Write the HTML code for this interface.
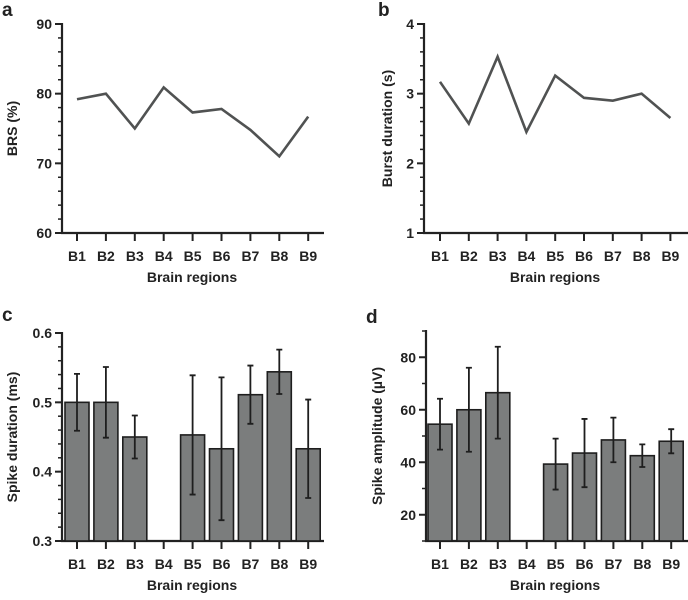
<!DOCTYPE html>
<html><head><meta charset="utf-8"><style>
body{margin:0;background:#fff;}
svg text{font-family:"Liberation Sans",Arial,sans-serif;font-weight:bold;fill:#222;}
</style></head><body>
<svg id="fig" width="688" height="595" viewBox="0 0 688 595"></svg>
<script>
const categories = ["B1","B2","B3","B4","B5","B6","B7","B8","B9"];
const brsValues = [79.2,80,75,80.9,77.3,77.8,74.8,71,76.7];
const burstValues = [3.17,2.57,3.53,2.45,3.26,2.94,2.9,3.0,2.65];
const spikeDurValues = [0.5,0.5,0.45,null,0.453,0.433,0.511,0.544,0.433];
const spikeDurErr = [0.041,0.051,0.031,0,0.086,0.103,0.042,0.032,0.071];
const spikeAmpValues = [54.5,60,66.5,null,39.3,43.5,48.5,42.5,48];
const spikeAmpErr = [9.7,16,17.5,0,9.7,13,8.5,4.3,4.6];
const brsTicks = [60,70,80,90];
const burstTicks = [1,2,3,4];
const durTicks = ["0.3","0.4","0.5","0.6"];
const ampTicks = [20,40,60,80];

const NS="http://www.w3.org/2000/svg";
const svg=document.getElementById('fig');
function mk(tag,attrs,parent){const e=document.createElementNS(NS,tag);for(const k in attrs)e.setAttribute(k,attrs[k]);(parent||svg).appendChild(e);return e;}

function panel(cfg){
  const g=mk('g',{});
  
  
  const y=v=>cfg.y0-(v-cfg.vmin)/(cfg.vmax-cfg.vmin)*(cfg.y0-cfg.y1);
  const x=i=>cfg.xb1+i*cfg.step;
  // letter
  const L=mk('text',{x:cfg.lx,y:cfg.ly,'font-size':19},g);L.textContent=cfg.letter;
  
  
  // minor ticks
  for(let v=cfg.vmin;v<=cfg.vmax+1e-9;v+=cfg.minor){
    mk('line',{x1:cfg.ax-4,x2:cfg.ax,y1:y(v),y2:y(v),stroke:'#222','stroke-width':1.5},g);
  }
  // major ticks
  cfg.ticks.forEach(t=>{
    const v=parseFloat(t);
    mk('line',{x1:cfg.ax-7,x2:cfg.ax,y1:y(v),y2:y(v),stroke:'#222','stroke-width':2},g);
    const tx=mk('text',{x:cfg.ax-10,y:y(v)+5,'font-size':14,'text-anchor':'end'},g);tx.textContent=t;
    
    
  });
  // axes
  const ya=mk('line',{x1:cfg.ax,x2:cfg.ax,y1:cfg.y1-1,y2:cfg.y0+1,stroke:'#222','stroke-width':2.2},g);
  
  
  const xa=mk('line',{x1:cfg.ax-1,x2:cfg.xend,y1:cfg.y0,y2:cfg.y0,stroke:'#222','stroke-width':2.2},g);
  
  
  // bars
  if(cfg.type==='bar'){
    cfg.vals.forEach((v,i)=>{
      if(v==null)return;
      const r=mk('rect',{x:x(i)-12,y:y(v),width:24,height:cfg.y0-y(v),fill:'#7b7d7d',stroke:'#1e1e1e','stroke-width':1.6},g);
      
      
      const e=cfg.err[i];
      const eb=mk('path',{d:`M${x(i)},${y(v-e)}V${y(v+e)}M${x(i)-3},${y(v+e)}H${x(i)+3}M${x(i)-3},${y(v-e)}H${x(i)+3}`,stroke:'#1e1e1e','stroke-width':1.8,fill:'none'},g);
      
      
    });
  } else {
    const p=mk('polyline',{points:cfg.vals.map((v,i)=>x(i)+','+y(v)).join(' '),fill:'none',stroke:'#505252','stroke-width':2.6,'stroke-linejoin':'miter'},g);
    
    
  }
  // x ticks/labels
  categories.forEach((c,i)=>{
    mk('line',{x1:x(i),x2:x(i),y1:cfg.y0,y2:cfg.y0+8,stroke:'#222','stroke-width':2},g);
    const t=mk('text',{x:x(i),y:cfg.y0+28,'font-size':14,'text-anchor':'middle'},g);t.textContent=c;
    
    
  });
  const xt=mk('text',{x:cfg.xtitle,y:cfg.y0+49,'font-size':14,'text-anchor':'middle'},g);xt.textContent='Brain regions';
  
  
  const yt=mk('text',{x:0,y:0,'font-size':14,'text-anchor':'middle',transform:`translate(${cfg.ytx},${(cfg.y0+cfg.y1)/2}) rotate(-90)`},g);yt.textContent=cfg.ytitle;
  
  
}

panel({name:'panel-a-brs',letter:'a',lx:2,ly:16,type:'line',vals:brsValues,vmin:60,vmax:90,minor:2,ticks:brsTicks.map(String),
  ax:62,y0:233,y1:24,xb1:77,step:28.9,xend:324,xtitle:192,ytitle:'BRS (%)',ytx:17});
panel({name:'panel-b-burst',letter:'b',lx:378,ly:16,type:'line',vals:burstValues,vmin:1,vmax:4,minor:0.2,ticks:burstTicks.map(String),
  ax:424,y0:233,y1:24,xb1:440,step:28.8,xend:688,xtitle:555,ytitle:'Burst duration (s)',ytx:392});
panel({name:'panel-c-spike-duration',letter:'c',lx:2,ly:321,type:'bar',vals:spikeDurValues,err:spikeDurErr,vmin:0.3,vmax:0.6,minor:0.02,ticks:durTicks,
  ax:62,y0:541,y1:333,xb1:77,step:28.9,xend:324,xtitle:192,ytitle:'Spike duration (ms)',ytx:17});
panel({name:'panel-d-spike-amplitude',letter:'d',lx:366,ly:323,type:'bar',vals:spikeAmpValues,err:spikeAmpErr,vmin:10,vmax:90,minor:10,ticks:ampTicks.map(String),
  ax:426,y0:541,y1:331,xb1:440,step:28.9,xend:688,xtitle:555,ytitle:'Spike amplitude (\u00b5V)',ytx:382});
</script>
</body></html>
